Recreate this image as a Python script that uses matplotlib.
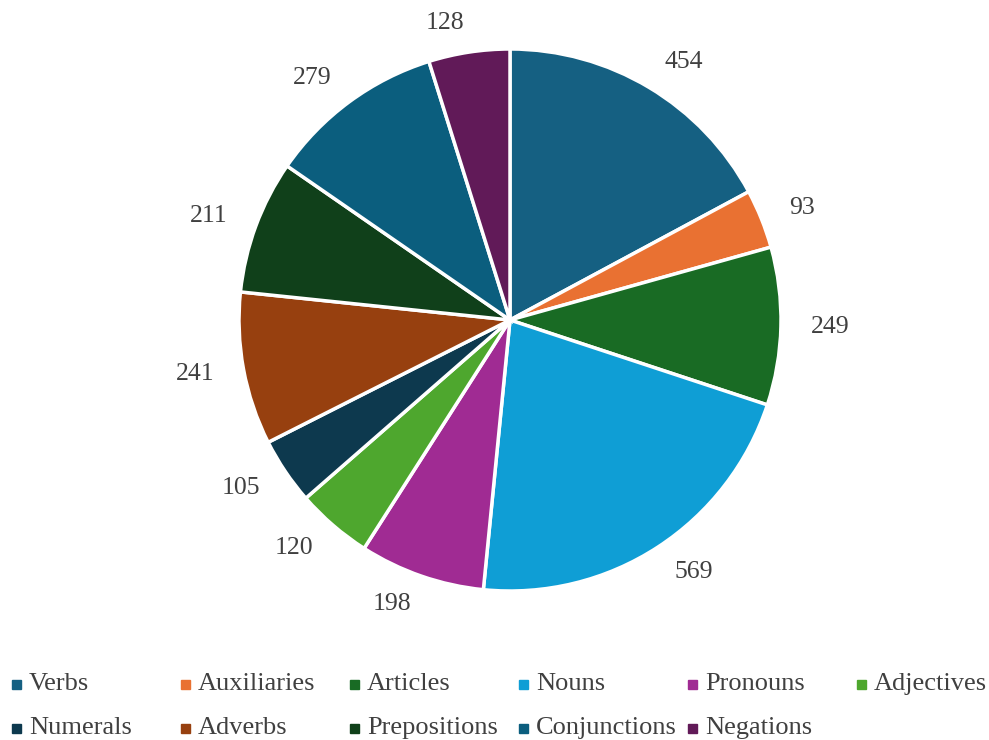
import matplotlib.pyplot as plt
from matplotlib.patches import Rectangle

categories = ['Verbs', 'Auxiliaries', 'Articles', 'Nouns', 'Pronouns', 'Adjectives',
              'Numerals', 'Adverbs', 'Prepositions', 'Conjunctions', 'Negations']
counts = [454, 93, 249, 569, 198, 120, 105, 241, 211, 279, 128]
colors = ['#156082', '#E97132', '#196B24', '#0F9ED5', '#A02B93', '#4EA72E',
          '#0D394E', '#97400F', '#10401A', '#0B5E7E', '#611A58']

plt.rcParams['font.family'] = ['Liberation Serif', 'DejaVu Serif']

W, H = 989, 740
fig = plt.figure(figsize=(W / 100, H / 100), dpi=100)

# pie centre / radius in pixels
cx, cy, r = 510, 320, 271
ax = fig.add_axes([(cx - r) / W, 1 - (cy + r) / H, 2 * r / W, 2 * r / H])
wedges, texts = ax.pie(counts, colors=colors, startangle=90, counterclock=False,
                       labels=[str(c) for c in counts], labeldistance=1.11,
                       wedgeprops=dict(edgecolor='white', linewidth=2.5),
                       textprops=dict(fontsize=18.5, color='#404040'))
ax.set_xlim(-1, 1)
ax.set_ylim(-1, 1)
ax.set_aspect('equal')

# legend laid out in fixed-width columns
col_w = 169
for i, (name, c) in enumerate(zip(categories, colors)):
    row, col = divmod(i, 6)
    x = 12 + col * col_w
    y = 684 + row * 44
    fig.add_artist(Rectangle((x / W, 1 - (y + 4.5) / H), 9 / W, 9 / H,
                             transform=fig.transFigure, color=c))
    fig.text((x + 17) / W, 1 - y / H, name, fontsize=19, color='#404040',
             va='center', ha='left')

fig.savefig('out.png', dpi=100)
